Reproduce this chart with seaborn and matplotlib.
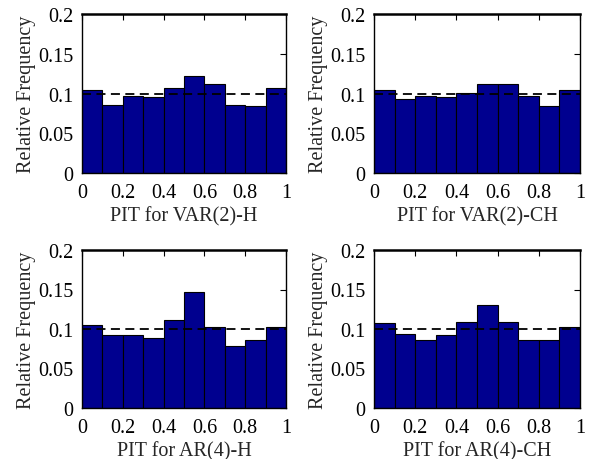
import numpy as np
import pandas as pd
import matplotlib
matplotlib.use("Agg")
import matplotlib.pyplot as plt
import seaborn as sns

bin_centers = [0.05, 0.15, 0.25, 0.35, 0.45, 0.55, 0.65, 0.75, 0.85, 0.95]
var2_h = [0.105, 0.085, 0.097, 0.095, 0.107, 0.122, 0.112, 0.085, 0.084, 0.107]
var2_ch = [0.104, 0.093, 0.097, 0.095, 0.101, 0.112, 0.112, 0.097, 0.084, 0.104]
ar4_h = [0.105, 0.093, 0.092, 0.089, 0.111, 0.147, 0.102, 0.078, 0.086, 0.103]
ar4_ch = [0.108, 0.094, 0.086, 0.093, 0.109, 0.131, 0.109, 0.086, 0.086, 0.102]
titles = ["PIT for VAR(2)-H", "PIT for VAR(2)-CH", "PIT for AR(4)-H", "PIT for AR(4)-CH"]
series = [var2_h, var2_ch, ar4_h, ar4_ch]

sns.set_theme(style="white")
plt.rcParams["font.family"] = ["Liberation Serif", "DejaVu Serif"]
plt.rcParams["font.size"] = 14.5

fig = plt.figure(figsize=(5.9, 4.6), dpi=100)
W, H = 590, 460
boxes = [(82, 15, 286, 174), (374, 15, 580, 174), (82, 251, 286, 409), (374, 251, 580, 409)]

for (x0, y0, x1, y1), vals, name in zip(boxes, series, titles):
    ax = fig.add_axes([x0 / W, 1 - y1 / H, (x1 - x0) / W, (y1 - y0) / H])
    df = pd.DataFrame({"pit": bin_centers, "freq": vals})
    sns.histplot(data=df, x="pit", weights="freq", bins=10, binrange=(0, 1),
                 color="#00008F", edgecolor="black", linewidth=0.8, alpha=1, ax=ax)
    ax.axhline(0.1, color="black", linestyle=(0, (5, 3)), linewidth=1.3)
    ax.set_xlim(0, 1)
    ax.set_ylim(0, 0.2)
    ax.set_xticks([0, 0.2, 0.4, 0.6, 0.8, 1])
    ax.set_xticklabels(["0", "0.2", "0.4", "0.6", "0.8", "1"])
    ax.set_yticks([0, 0.05, 0.1, 0.15, 0.2])
    ax.set_yticklabels(["0", "0.05", "0.1", "0.15", "0.2"])
    ax.tick_params(direction="in", length=4, width=0.8, colors="black",
                   labelsize=14.5, top=True, right=True)
    ax.tick_params(axis="x", pad=7)
    ax.tick_params(axis="y", pad=6)
    ax.set_xlabel(name, fontsize=14.5, labelpad=3)
    ax.set_ylabel("Relative Frequency", fontsize=14.5, labelpad=1.5)
    for s in ax.spines.values():
        s.set_color("black")
        s.set_linewidth(1.0)
    ax.spines["top"].set_linewidth(1.8)

fig.savefig("out.png", dpi=100)
